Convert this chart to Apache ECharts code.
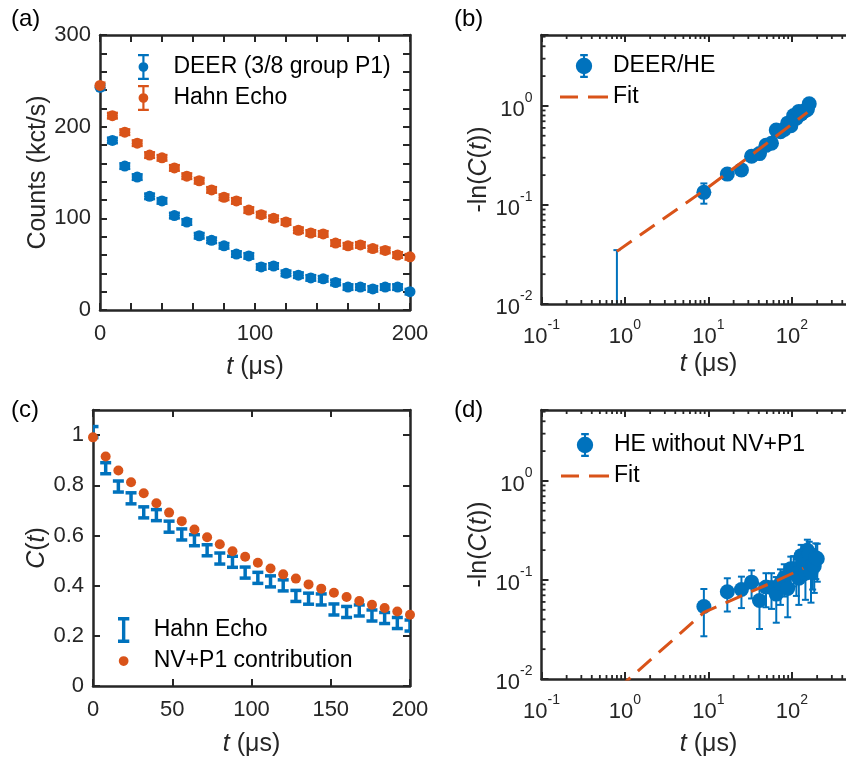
<!DOCTYPE html>
<html><head><meta charset="utf-8">
<script src="https://cdn.jsdelivr.net/npm/echarts@6/dist/echarts.min.js"></script>
<style>html,body{margin:0;padding:0;background:#fff}#c{width:846px;height:762px}</style>
</head><body><div id="c"></div>
<script>
// ---------- data ----------
const tA = [0,8,16,24,32,40,48,56,64,72,80,88,96,104,112,120,128,136,144,152,160,168,176,184,192,200];
const deerA = [243,185,157,145,124,119,103,96,81,76,70,61,59,47,48,40,38,35,34,30,25,25,23,25,25,20];
const hahnA = [245,212,194,182,169,166,155,146,141,131,123,119,109,104,100,96,87,84,83,73,70,71,67,65,60,58];
const errDeerA = [3,3,3,3,3,3,3,3,3,3,3,3,3,3,3,3,3,3,3,3,3,3,3,3,3,3];
const errHahnA = [3,3,3,3,3,3,3,3,3,3,3,3,3,3,3,3,3,3,3,3,3,3,3,3,3,3];

const tB = [0.8,8.8,16.8,24.8,32.8,40.8,48.8,56.8,64.8,72.8,80.8,88.8,96.8,104.8,112.8,120.8,128.8,136.8,144.8,152.8,160.8];
const deerHE = [0.004,0.134,0.205,0.226,0.31,0.33,0.40,0.42,0.57,0.55,0.58,0.67,0.63,0.80,0.75,0.88,0.83,0.88,0.90,0.92,1.05];
const errB = [0.031,0.031,0.025,0.025,0.03,0.03,0.035,0.035,0.04,0.04,0.045,0.05,0.05,0.06,0.06,0.07,0.07,0.08,0.08,0.09,0.12];
const fitBt = [0.8,8.8,32.8,152.8];
const fitBy = [0.034,0.14,0.32,0.86];

const tC = [0,8,16,24,32,40,48,56,64,72,80,88,96,104,112,120,128,136,144,152,160,168,176,184,192,200];
const heC = [1.012,0.868,0.795,0.748,0.692,0.681,0.635,0.604,0.581,0.541,0.508,0.495,0.452,0.431,0.417,0.401,0.359,0.348,0.345,0.305,0.295,0.301,0.281,0.271,0.251,0.241];
const errHeC = [0.022,0.022,0.022,0.022,0.022,0.022,0.022,0.022,0.022,0.022,0.022,0.022,0.022,0.022,0.022,0.022,0.022,0.022,0.022,0.022,0.022,0.022,0.022,0.022,0.022,0.022];
const nvC = [0.991,0.915,0.859,0.812,0.768,0.728,0.691,0.657,0.624,0.593,0.565,0.537,0.515,0.491,0.468,0.445,0.428,0.405,0.388,0.372,0.355,0.339,0.324,0.311,0.297,0.284];

const tD = [8.8,16.8,24.8,32.8,40.8,48.8,56.8,64.8,72.8,80.8,88.8,96.8,104.8,112.8,120.8,128.8,136.8,144.8,152.8,160.8,168.8,176.8,184.8,192.8,200.8];
const heNoNV = [0.054,0.076,0.080,0.095,0.062,0.085,0.084,0.072,0.092,0.106,0.082,0.130,0.130,0.115,0.104,0.176,0.152,0.117,0.199,0.185,0.119,0.142,0.138,0.168,0.164];
const errD = [0.027,0.028,0.028,0.03,0.03,0.032,0.033,0.035,0.036,0.038,0.04,0.042,0.044,0.046,0.048,0.05,0.052,0.054,0.056,0.058,0.06,0.062,0.064,0.066,0.068];
const fitDt = [0.8,8.8,32.8,64.8,136.8];
const fitDy = [0.0078,0.047,0.0766,0.098,0.131];

const xTicksA = [0,100,200];
const yTicksA = [0,100,200,300];

// ---------- style ----------
const FONT = "'Liberation Sans', Arial, Helvetica, sans-serif";
const AX = '#262626';
const BLUE = '#0072BD', ORANGE = '#D95319';
const TICK = 22, TITLE = 25, LEG = 23;

const chart = echarts.init(document.getElementById('c'), null, {renderer: 'canvas'});

const grids = [
  {left: 100, top: 35, width: 310, height: 275},
  {left: 541.5, top: 35, width: 334, height: 269},
  {left: 93, top: 410, width: 317, height: 276},
  {left: 541.5, top: 410, width: 334, height: 269}
].map(g => Object.assign({containLabel: false, outerBoundsMode: 'none'}, g));

const logFmt = v => {
  const l = Math.log10(v), e = Math.round(l);
  if (Math.abs(l - e) > 1e-6) return '';
  return '{b|10}{s|' + e + '}';
};
const logRich = {
  b: {fontSize: TICK, lineHeight: 30, fontFamily: FONT, color: AX, verticalAlign: 'bottom'},
  s: {fontSize: 14, lineHeight: 14, fontFamily: FONT, color: AX, verticalAlign: 'top'}
};
const nameRich = {i: {fontStyle: 'italic', fontSize: TITLE, fontFamily: FONT, color: AX}};

function axisBase(gi, pos, extra) {
  return Object.assign({
    gridIndex: gi, position: pos,
    axisLine: {show: true, onZero: false, lineStyle: {color: AX, width: 2.5}},
    axisTick: {show: true, inside: true, length: 7, lineStyle: {color: AX, width: 2}},
    splitLine: {show: false},
    minorTick: {show: false},
    axisLabel: {show: false}
  }, extra);
}
function nameStyle() {
  return {fontSize: TITLE, fontFamily: FONT, color: AX, rich: nameRich};
}

const xAxes = [
  axisBase(0, 'bottom', {type: 'value', min: 0, max: 200, interval: 20,
    axisLabel: {show: true, margin: 13, fontSize: TICK, fontFamily: FONT, color: AX,
      formatter: v => xTicksA.includes(v) ? String(v) : ''},
    name: '{i|t} (μs)', nameLocation: 'middle', nameGap: 45, nameTextStyle: nameStyle()}),
  axisBase(0, 'top', {type: 'value', min: 0, max: 200, interval: 20}),
  axisBase(1, 'bottom', {type: 'log', logBase: 10, min: 0.1, max: 1000,
    axisLabel: {show: true, margin: 14, formatter: logFmt, rich: logRich},
    name: '{i|t} (μs)', nameLocation: 'middle', nameGap: 48, nameTextStyle: nameStyle()}),
  axisBase(1, 'top', {type: 'log', logBase: 10, min: 0.1, max: 1000}),
  axisBase(2, 'bottom', {type: 'value', min: 0, max: 200, interval: 50,
    axisLabel: {show: true, margin: 13, fontSize: TICK, fontFamily: FONT, color: AX},
    name: '{i|t} (μs)', nameLocation: 'middle', nameGap: 46, nameTextStyle: nameStyle()}),
  axisBase(2, 'top', {type: 'value', min: 0, max: 200, interval: 50}),
  axisBase(3, 'bottom', {type: 'log', logBase: 10, min: 0.1, max: 1000,
    axisLabel: {show: true, margin: 14, formatter: logFmt, rich: logRich},
    name: '{i|t} (μs)', nameLocation: 'middle', nameGap: 53, nameTextStyle: nameStyle()}),
  axisBase(3, 'top', {type: 'log', logBase: 10, min: 0.1, max: 1000})
];
const yAxes = [
  axisBase(0, 'left', {type: 'value', min: 0, max: 300, interval: 20,
    axisLabel: {show: true, margin: 9, fontSize: TICK, fontFamily: FONT, color: AX,
      formatter: v => yTicksA.includes(v) ? String(v) : ''},
    name: 'Counts (kct/s)', nameLocation: 'middle', nameRotate: 90, nameGap: 40, nameTextStyle: nameStyle()}),
  axisBase(0, 'right', {type: 'value', min: 0, max: 300, interval: 20}),
  axisBase(1, 'left', {type: 'log', logBase: 10, min: 0.01, max: 5.2,
    axisLabel: {show: true, margin: 9, formatter: logFmt, rich: logRich},
    name: '-ln({i|C}({i|t}))', nameLocation: 'middle', nameRotate: 90, nameGap: 47, nameTextStyle: nameStyle()}),
  axisBase(1, 'right', {type: 'log', logBase: 10, min: 0.01, max: 5.2}),
  axisBase(2, 'left', {type: 'value', min: 0, max: 1.1, interval: 0.2,
    axisLabel: {show: true, margin: 9, fontSize: TICK, fontFamily: FONT, color: AX,
      formatter: v => v > 1.05 ? '' : String(+v.toFixed(1))},
    name: '{i|C}({i|t})', nameLocation: 'middle', nameRotate: 90, nameGap: 36, nameTextStyle: nameStyle()}),
  axisBase(2, 'right', {type: 'value', min: 0, max: 1.1, interval: 0.2}),
  axisBase(3, 'left', {type: 'log', logBase: 10, min: 0.01, max: 5.2,
    axisLabel: {show: true, margin: 9, formatter: logFmt, rich: logRich},
    name: '-ln({i|C}({i|t}))', nameLocation: 'middle', nameRotate: 90, nameGap: 47, nameTextStyle: nameStyle()}),
  axisBase(3, 'right', {type: 'log', logBase: 10, min: 0.01, max: 5.2})
];

function errSeries(gi, xs, ys, es, color, capW, lw, floorV) {
  const data = xs.map((x, i) => {
    let lo = ys[i] - es[i];
    if (floorV !== undefined && lo < floorV) lo = floorV * 0.5;
    return [x, ys[i], lo, ys[i] + es[i]];
  });
  return {
    type: 'custom', xAxisIndex: 2 * gi, yAxisIndex: 2 * gi, data, clip: true, silent: true, z: 3,
    encode: {x: 0, y: 1},
    renderItem(params, api) {
      const x = api.value(0);
      const lo = api.coord([x, api.value(2)]);
      const hi = api.coord([x, api.value(3)]);
      const st = {stroke: color, lineWidth: lw, fill: null};
      return {type: 'group', children: [
        {type: 'line', shape: {x1: lo[0], y1: lo[1], x2: hi[0], y2: hi[1]}, style: st},
        {type: 'line', shape: {x1: lo[0] - capW / 2, y1: lo[1], x2: lo[0] + capW / 2, y2: lo[1]}, style: st},
        {type: 'line', shape: {x1: hi[0] - capW / 2, y1: hi[1], x2: hi[0] + capW / 2, y2: hi[1]}, style: st}
      ]};
    }
  };
}
function scatter(gi, name, xs, ys, color, size) {
  return {type: 'scatter', name, xAxisIndex: 2 * gi, yAxisIndex: 2 * gi, clip: true,
    symbol: 'circle', symbolSize: size, itemStyle: {color, opacity: 1}, z: 4,
    data: xs.map((x, i) => [x, ys[i]])};
}
function fitLine(gi, xs, ys) {
  return {type: 'line', name: 'Fit', xAxisIndex: 2 * gi, yAxisIndex: 2 * gi, clip: true,
    symbol: 'none', smooth: false, z: 6,
    lineStyle: {color: ORANGE, width: 3, type: [18, 10]}, itemStyle: {color: ORANGE},
    data: xs.map((x, i) => [x, ys[i]])};
}
function minorTicks(gi, xMin, xMax, yMin, yMax) {
  return {type: 'custom', xAxisIndex: 2 * gi, yAxisIndex: 2 * gi, data: [[1, 1]], silent: true, clip: false, z: 7,
    renderItem(params, api) {
      const cs = params.coordSys, ch = [], L = 4;
      const st = {stroke: AX, lineWidth: 1.8};
      for (let k = -3; k <= 3; k++) {
        for (let m = 2; m <= 9; m++) {
          const v = m * Math.pow(10, k);
          if (v > xMin && v < xMax) {
            const px = api.coord([v, 1])[0];
            ch.push({type: 'line', shape: {x1: px, y1: cs.y + cs.height, x2: px, y2: cs.y + cs.height - L}, style: st});
            ch.push({type: 'line', shape: {x1: px, y1: cs.y, x2: px, y2: cs.y + L}, style: st});
          }
          if (v > yMin && v < yMax) {
            const py = api.coord([1, v])[1];
            ch.push({type: 'line', shape: {x1: cs.x, y1: py, x2: cs.x + L, y2: py}, style: st});
            ch.push({type: 'line', shape: {x1: cs.x + cs.width, y1: py, x2: cs.x + cs.width - L, y2: py}, style: st});
          }
        }
      }
      return {type: 'group', children: ch};
    }};
}

const series = [
  errSeries(0, tA, deerA, errDeerA, BLUE, 11, 2.5),
  scatter(0, 'DEER (3/8 group P1)', tA, deerA, BLUE, 11),
  errSeries(0, tA, hahnA, errHahnA, ORANGE, 11, 2.5),
  scatter(0, 'Hahn Echo', tA, hahnA, ORANGE, 11),

  errSeries(1, tB, deerHE, errB, BLUE, 7, 2, 0.01),
  scatter(1, 'DEER/HE', tB, deerHE, BLUE, 15),
  fitLine(1, fitBt, fitBy),
  minorTicks(1, 0.1, 1000, 0.01, 5.2),

  Object.assign(errSeries(2, tC, heC, errHeC, BLUE, 11, 3.5), {name: 'Hahn Echo '}),
  scatter(2, 'NV+P1 contribution', tC, nvC, ORANGE, 10),

  errSeries(3, tD, heNoNV, errD, BLUE, 7, 2, 0.01),
  scatter(3, 'HE without NV+P1', tD, heNoNV, BLUE, 15),
  fitLine(3, fitDt, fitDy),
  minorTicks(3, 0.1, 1000, 0.01, 5.2)
];

const ICON_EB_SMALL = 'path://M0,0H10V2H6V8H4V2H0Z M4,16H6V22H10V24H0V22H4Z M0.5,12A4.5,4.5 0 1 1 9.5,12A4.5,4.5 0 1 1 0.5,12Z';
const ICON_EB_BIG = 'path://M4,0H11V2H8.5V4H6.5V2H4Z M6.5,18H8.5V20H11V22H4V20H6.5Z M0,11A7.5,7.5 0 1 1 15,11A7.5,7.5 0 1 1 0,11Z';
const ICON_I = 'path://M0,0H10V3H6.5V20H10V23H0V20H3.5V3H0Z';
const ICON_DOT = 'path://M5,0L5.01,0L5.01,0.01Z M0.5,12A4.5,4.5 0 1 1 9.5,12A4.5,4.5 0 1 1 0.5,12Z M5,24L5.01,24L5.01,23.99Z';
const ICON_DASH = 'path://M0,0H18V3H0Z M28,0H48V3H28Z';

function legend(left, top, iw, ih, items) {
  return {left, top, orient: 'vertical', padding: 0, itemWidth: iw, itemHeight: ih, itemGap: 31 - ih,
    selectedMode: false,
    textStyle: {fontSize: LEG, fontFamily: FONT, color: '#000', lineHeight: ih},
    data: items};
}
const legends = [
  legend(138, 54, 50, 26, [
    {name: 'DEER (3/8 group P1)', icon: ICON_EB_SMALL, itemStyle: {color: BLUE}},
    {name: 'Hahn Echo', icon: ICON_EB_SMALL, itemStyle: {color: ORANGE}}
  ]),
  legend(560, 54, 48, 24, [
    {name: 'DEER/HE', icon: ICON_EB_BIG, itemStyle: {color: BLUE}},
    {name: 'Fit', icon: ICON_DASH, itemStyle: {color: ORANGE}}
  ]),
  legend(118, 617, 50, 26, [
    {name: 'Hahn Echo ', icon: ICON_I, itemStyle: {color: BLUE}},
    {name: 'NV+P1 contribution', icon: ICON_DOT, itemStyle: {color: ORANGE}}
  ]),
  legend(561, 433, 48, 24, [
    {name: 'HE without NV+P1', icon: ICON_EB_BIG, itemStyle: {color: BLUE}},
    {name: 'Fit', icon: ICON_DASH, itemStyle: {color: ORANGE}}
  ])
];

const panelLbl = (text, x, y) => ({type: 'text', left: x, top: y, silent: true,
  style: {text, font: '24px ' + FONT, fill: '#000'}});

chart.setOption({
  animation: false,
  backgroundColor: '#fff',
  grid: grids,
  xAxis: xAxes,
  yAxis: yAxes,
  legend: legends,
  series,
  graphic: [
    panelLbl('(a)', 11, 7),
    panelLbl('(b)', 454, 7),
    panelLbl('(c)', 11, 398),
    panelLbl('(d)', 454, 398)
  ]
});
</script></body></html>
